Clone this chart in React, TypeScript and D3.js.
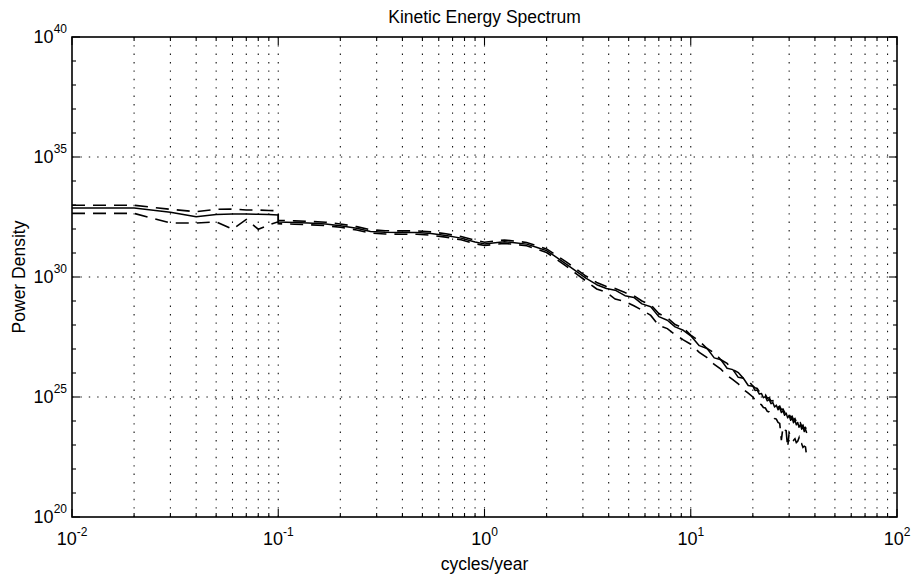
import React from "react";
import * as d3 from "d3";

// ---- data (power density given as log10 exponent) ----
const freqLow = [0.01, 0.02, 0.03, 0.04, 0.05, 0.06, 0.07, 0.08, 0.09, 0.1];
const freqHigh = [
  0.1, 0.12, 0.14, 0.17, 0.2, 0.24, 0.28, 0.33, 0.4, 0.47,
  0.55, 0.65, 0.77, 0.9, 1.0, 1.1, 1.25, 1.4, 1.6, 1.8,
  2.0, 2.2, 2.5, 2.8, 3.1, 3.5, 3.9, 4.3, 4.8, 5.3,
  5.8, 6.4, 7.0, 7.7, 8.4, 9.2,
  10, 11, 12, 13, 14, 15, 16, 17, 18, 19, 20,
  20.5, 21, 21.5, 22, 22.5, 23, 23.5, 24, 24.5, 25, 25.5, 26, 26.5, 27, 27.5,
  28, 28.5, 29, 29.5, 30, 30.5, 31, 31.5, 32, 32.5, 33, 33.5, 34, 34.5, 35,
  35.5, 36, 36.5,
];

const solidLow = [32.87, 32.87, 32.7, 32.51, 32.6, 32.62, 32.62, 32.61, 32.6, 32.58];
const upperLow = [32.99, 32.99, 32.82, 32.72, 32.82, 32.83, 32.79, 32.79, 32.77, 32.76];
const lowerLow = [32.65, 32.65, 32.25, 32.25, 32.3, 31.99, 32.4, 31.99, 32.17, 32.3];

const solidHigh = [
  32.29, 32.27, 32.25, 32.21, 32.14, 32.03, 31.9, 31.86, 31.85, 31.85,
  31.81, 31.73, 31.62, 31.46, 31.38, 31.42, 31.47, 31.43, 31.37, 31.23,
  31.1, 30.86, 30.53, 30.22, 29.95, 29.68, 29.52, 29.45, 29.22, 29.15,
  28.88, 28.76, 28.35, 28.2, 27.92, 27.78,
  27.55, 27.14, 27.02, 26.63, 26.55, 26.2, 26.14, 25.82, 25.78, 25.48, 25.45,
  25.27, 25.29, 25.12, 25.15, 24.97, 25.02, 24.84, 24.9, 24.72, 24.77, 24.58, 24.66, 24.47, 24.55, 24.35,
  24.43, 24.24, 24.33, 24.13, 24.23, 24.03, 24.13, 23.93, 24.03, 23.84, 23.94, 23.74, 23.85, 23.66, 23.76,
  23.56, 23.66, 23.5,
];
const upperHigh = [
  32.36, 32.34, 32.32, 32.28, 32.21, 32.1, 31.97, 31.93, 31.92, 31.92,
  31.88, 31.8, 31.69, 31.53, 31.45, 31.49, 31.54, 31.5, 31.44, 31.3,
  31.17, 30.94, 30.62, 30.32, 30.04, 29.77, 29.6, 29.52, 29.35, 29.22,
  29.0, 28.84, 28.48, 28.3, 28.02, 27.88,
  27.58, 27.33, 27.02, 26.84, 26.55, 26.4, 26.14, 26.02, 25.78, 25.68, 25.46,
  25.38, 25.36, 25.22, 25.22, 25.08, 25.1, 24.95, 24.97, 24.83, 24.85, 24.7, 24.73, 24.58, 24.62, 24.47,
  24.5, 24.36, 24.4, 24.25, 24.3, 24.15, 24.2, 24.05, 24.1, 23.96, 24.01, 23.86, 23.92, 23.78, 23.83,
  23.68, 23.73, 23.62,
];
const lowerHigh = [
  32.22, 32.2, 32.18, 32.14, 32.07, 31.96, 31.83, 31.79, 31.78, 31.78,
  31.74, 31.66, 31.55, 31.39, 31.31, 31.35, 31.4, 31.36, 31.3, 31.16,
  31.02, 30.78, 30.44, 30.12, 29.84, 29.5, 29.36, 29.08, 28.98, 28.8,
  28.62, 28.4, 27.98, 27.85, 27.6, 27.38,
  27.2, 26.86, 26.64, 26.36, 26.16, 25.9, 25.72, 25.55, 25.32, 25.16, 25.0,
  24.88, 24.86, 24.72, 24.68, 24.56, 24.54, 24.4, 24.38, 24.25, 24.22, 24.1, 24.08, 23.94, 23.9, 23.2,
  23.75, 23.62, 23.6, 22.9, 23.5, 23.36, 23.38, 23.2, 23.26, 23.1, 23.15, 23.3, 23.0, 23.05, 22.9,
  22.95, 22.92, 22.5,
];

const xMajorExps = [-2, -1, 0, 1, 2];
const yMajorExps = [20, 25, 30, 35, 40];
const minorMultipliers = [2, 3, 4, 5, 6, 7, 8, 9];

const FONT = "'Liberation Sans', Arial, Helvetica, sans-serif";

export default function App() {
  const W = 916;
  const H = 578;
  const L = 72, R = 897, T = 37, B = 517;
  const x = d3.scaleLog().domain([1e-2, 1e2]).range([L, R]);
  const y = d3.scaleLog().domain([1e20, 1e40]).range([B, T]);

  const freq = [...freqLow, ...freqHigh];
  const series = (vals: number[]) =>
    d3
      .line<number>()
      .x((_, i) => x(freq[i]))
      .y((v) => y(Math.pow(10, v)))(vals) || "";

  const solid = series([...solidLow, ...solidHigh]);
  const upper = series([...upperLow, ...upperHigh]);
  const lower = series([...lowerLow, ...lowerHigh]);

  const xMinor: number[] = [];
  for (const e of xMajorExps.slice(0, -1)) {
    for (const m of minorMultipliers) xMinor.push(m * Math.pow(10, e));
  }
  const xMajor = xMajorExps.map((e) => Math.pow(10, e));
  const yMinor: number[] = [];
  for (let e = 20; e <= 40; e++) if (!yMajorExps.includes(e)) yMinor.push(Math.pow(10, e));
  const yMajor = yMajorExps.map((e) => Math.pow(10, e));

  const gridStyle = { stroke: "#111", strokeWidth: 1.1, strokeDasharray: "1.4 7" };
  const majLen = 8;
  const minLen = 4;

  return (
    <svg
      width={W}
      height={H}
      style={{ position: "absolute", left: 0, top: 0, background: "#fff" }}
      fontFamily={FONT}
    >
      <rect x={0} y={0} width={W} height={H} fill="#fff" />
      {/* grid */}
      {[...xMinor, ...xMajor.slice(1, -1)].map((v, i) => (
        <line key={"gx" + i} x1={x(v)} x2={x(v)} y1={B} y2={T} {...gridStyle} />
      ))}
      {yMajor.slice(1, -1).map((v, i) => (
        <line key={"gy" + i} x1={L} x2={R} y1={y(v)} y2={y(v)} {...gridStyle} />
      ))}

      {/* series */}
      <path d={solid} fill="none" stroke="#000" strokeWidth={1.5} strokeLinejoin="round" />
      <path d={upper} fill="none" stroke="#000" strokeWidth={1.6} strokeDasharray="13 8" />
      <path d={lower} fill="none" stroke="#000" strokeWidth={1.6} strokeDasharray="13 8" />

      {/* box */}
      <rect x={L} y={T} width={R - L} height={B - T} fill="none" stroke="#000" strokeWidth={1.6} />

      {/* x ticks */}
      {xMinor.map((v, i) => (
        <g key={"xm" + i} stroke="#000" strokeWidth={1.1}>
          <line x1={x(v)} x2={x(v)} y1={B} y2={B - minLen} />
          <line x1={x(v)} x2={x(v)} y1={T} y2={T + minLen} />
        </g>
      ))}
      {xMajor.map((v, i) => (
        <g key={"xM" + i} stroke="#000" strokeWidth={1.1}>
          <line x1={x(v)} x2={x(v)} y1={B} y2={B - majLen} />
          <line x1={x(v)} x2={x(v)} y1={T} y2={T + majLen} />
        </g>
      ))}
      {/* y ticks */}
      {yMinor.map((v, i) => (
        <g key={"ym" + i} stroke="#000" strokeWidth={1.1}>
          <line x1={L} x2={L + minLen} y1={y(v)} y2={y(v)} />
          <line x1={R} x2={R - minLen} y1={y(v)} y2={y(v)} />
        </g>
      ))}
      {yMajor.map((v, i) => (
        <g key={"yM" + i} stroke="#000" strokeWidth={1.1}>
          <line x1={L} x2={L + majLen} y1={y(v)} y2={y(v)} />
          <line x1={R} x2={R - majLen} y1={y(v)} y2={y(v)} />
        </g>
      ))}

      {/* x tick labels */}
      {xMajorExps.map((e, i) => (
        <text key={"xl" + i} x={x(Math.pow(10, e))} y={B + 28} textAnchor="middle" fontSize={18} fill="#000">
          <tspan>10</tspan>
          <tspan dy={-9} fontSize={12}>{e < 0 ? "-" + Math.abs(e) : String(e)}</tspan>
        </text>
      ))}
      {/* y tick labels */}
      {yMajorExps.map((e, i) => (
        <text key={"yl" + i} x={L - 5} y={y(Math.pow(10, e)) + 6} textAnchor="end" fontSize={18} fill="#000">
          <tspan>10</tspan>
          <tspan dy={-10} fontSize={12}>{String(e)}</tspan>
        </text>
      ))}

      {/* title & labels */}
      <text x={(L + R) / 2} y={23} textAnchor="middle" fontSize={17.5} fill="#000">
        Kinetic Energy Spectrum
      </text>
      <text x={(L + R) / 2} y={570} textAnchor="middle" fontSize={17.5} fill="#000">
        cycles/year
      </text>
      <text
        transform={`translate(25, ${(T + B) / 2}) rotate(-90)`}
        textAnchor="middle"
        fontSize={17.5}
        fill="#000"
      >
        Power Density
      </text>
    </svg>
  );
}
